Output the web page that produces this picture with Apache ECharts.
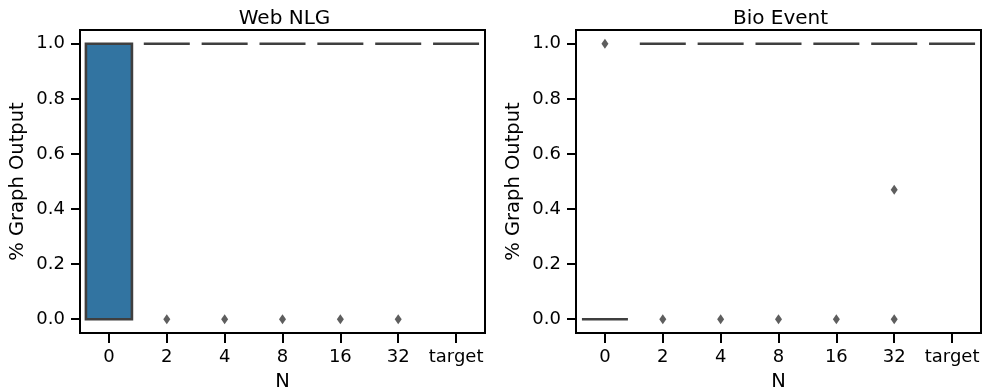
<!DOCTYPE html>
<html>
<head>
<meta charset="utf-8">
<script src="https://cdn.jsdelivr.net/npm/echarts@6/dist/echarts.min.js"></script>
<style>html,body{margin:0;padding:0;background:#fff}#c{width:983px;height:390px}</style>
</head>
<body>
<div id="c"></div>
<script>
const categories = ['0','2','4','8','16','32','target'];
const yTicks = [0, 0.2, 0.4, 0.6, 0.8, 1.0];
const titles = ['Web NLG', 'Bio Event'];
// box stats: [min, Q1, median, Q3, max]
const webNlgBox = [[0,0,1,1,1],[1,1,1,1,1],[1,1,1,1,1],[1,1,1,1,1],[1,1,1,1,1],[1,1,1,1,1],[1,1,1,1,1]];
const webNlgOutliers = [['2',0],['4',0],['8',0],['16',0],['32',0]];
const bioBox = [[0,0,0,0,0],[1,1,1,1,1],[1,1,1,1,1],[1,1,1,1,1],[1,1,1,1,1],[1,1,1,1,1],[1,1,1,1,1]];
const bioOutliers = [['0',1],['2',0],['4',0],['8',0],['16',0],['32',0.47],['32',0]];

const FONT = 'DejaVu Sans';
const grids = [{left:80, top:30, width:405, height:303}, {left:576, top:30, width:405, height:303}];

function xAxis(i){
  return {
    type:'category', gridIndex:i, data:categories, boundaryGap:true,
    name:'N', nameLocation:'middle', nameGap:39,
    nameTextStyle:{fontFamily:FONT, fontSize:19.5, color:'#000'},
    axisLine:{show:true, onZero:false, lineStyle:{color:'#000', width:2}},
    axisTick:{show:true, alignWithLabel:true, interval:0, length:10, lineStyle:{color:'#000', width:2}},
    axisLabel:{fontFamily:FONT, fontSize:18, color:'#000', margin:15, interval:0},
    splitLine:{show:false}
  };
}
function yAxis(i){
  return {
    type:'value', gridIndex:i, min:-0.05, max:1.05,
    name:'% Graph Output', nameLocation:'middle', nameGap:52,
    nameTextStyle:{fontFamily:FONT, fontSize:19.5, color:'#000'},
    axisLine:{show:true, onZero:false, lineStyle:{color:'#000', width:2}},
    axisTick:{show:true, length:9, lineStyle:{color:'#000', width:2}, customValues:yTicks},
    axisLabel:{fontFamily:FONT, fontSize:18, color:'#000', margin:15, customValues:yTicks,
      formatter:v=>Number(v).toFixed(1)},
    splitLine:{show:false}
  };
}
function boxSeries(i, data){
  return {
    type:'boxplot', xAxisIndex:i, yAxisIndex:i, data:data, boxWidth:[46,46],
    itemStyle:{color:'#3274a1', borderColor:'#3f3f3f', borderWidth:2.6},
    emphasis:{disabled:true}
  };
}
function outlierSeries(i, data){
  return {
    type:'scatter', xAxisIndex:i, yAxisIndex:i, data:data, symbol:'diamond', symbolSize:[7,10],
    itemStyle:{color:'#363636'}, emphasis:{disabled:true}, z:5
  };
}

const chart = echarts.init(document.getElementById('c'), null, {renderer:'canvas'});
chart.setOption({
  animation:false,
  backgroundColor:'#fff',
  title: titles.map((t,i)=>({
    text:t, left: grids[i].left + grids[i].width/2 - 3, top:4, textAlign:'center',
    textStyle:{fontFamily:FONT, fontSize:20, fontWeight:'normal', color:'#000'}
  })),
  grid: grids.map(g=>Object.assign({show:true, borderColor:'#000', borderWidth:2, backgroundColor:'transparent', containLabel:false, outerBoundsMode:'none'}, g)),
  xAxis:[xAxis(0), xAxis(1)],
  yAxis:[yAxis(0), yAxis(1)],
  series:[
    boxSeries(0, webNlgBox), outlierSeries(0, webNlgOutliers),
    boxSeries(1, bioBox), outlierSeries(1, bioOutliers)
  ]
});
</script>
</body>
</html>
